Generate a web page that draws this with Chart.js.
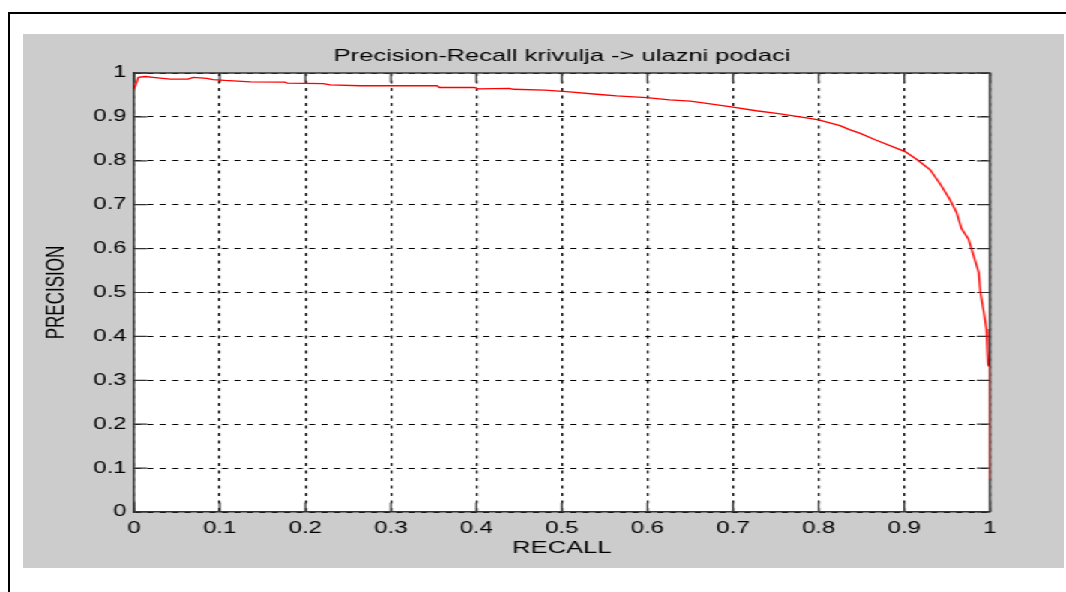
<!DOCTYPE html>
<html>
<head>
<meta charset="utf-8">
<script src="https://cdn.jsdelivr.net/npm/chart.js@4"></script>
<style>
html, body { margin: 0; padding: 0; background: #ffffff; width: 1066px; height: 592px; overflow: hidden; }
#frame { position: absolute; left: 8px; top: 12px; width: 1070px; height: 600px; border-left: 2px solid #000; border-top: 2px solid #000; }
#fig { position: absolute; left: 23px; top: 34px; width: 694px; height: 534px; transform: scaleX(1.5); transform-origin: 0 0; background: #cccccc; }
canvas { display: block; }
</style>
</head>
<body>
<div id="frame"></div>
<div id="fig"><canvas id="c" width="694" height="534" style="width:694px;height:534px"></canvas></div>
<script>
// ---- data ----
const recall = [0, 0.005, 0.013, 0.022, 0.042, 0.063, 0.069, 0.085, 0.092, 0.106, 0.136, 0.176, 0.179, 0.221, 0.229, 0.264, 0.354, 0.357, 0.398, 0.402, 0.439, 0.443, 0.480, 0.509, 0.544, 0.564, 0.599, 0.626, 0.650, 0.665, 0.698, 0.727, 0.751, 0.782, 0.800, 0.825, 0.836, 0.848, 0.866, 0.901, 0.914, 0.930, 0.942, 0.953, 0.961, 0.967, 0.975, 0.981, 0.987, 0.989, 0.993, 0.996, 0.997, 0.998, 1.0, 1.0];
const precision = [0.964, 0.990, 0.992, 0.990, 0.986, 0.986, 0.990, 0.988, 0.985, 0.983, 0.980, 0.979, 0.977, 0.976, 0.973, 0.971, 0.971, 0.967, 0.967, 0.964, 0.965, 0.963, 0.961, 0.957, 0.951, 0.948, 0.944, 0.939, 0.936, 0.932, 0.923, 0.914, 0.908, 0.899, 0.893, 0.880, 0.871, 0.863, 0.848, 0.821, 0.804, 0.780, 0.747, 0.713, 0.683, 0.645, 0.622, 0.584, 0.546, 0.500, 0.455, 0.417, 0.371, 0.335, 0.330, 0.075];
const xTickLabels = ['0', '0.1', '0.2', '0.3', '0.4', '0.5', '0.6', '0.7', '0.8', '0.9', '1'];
const yTickLabels = ['0', '0.1', '0.2', '0.3', '0.4', '0.5', '0.6', '0.7', '0.8', '0.9', '1'];
const chartTitle = 'Precision-Recall krivulja -> ulazni podaci';
const xTitle = 'RECALL';
const yTitle = 'PRECISION';

const FONT = "'Liberation Sans', Arial, Helvetica, sans-serif";
const AXIS_COLOR = '#333333';

const boxPlugin = {
  id: 'matlabBox',
  beforeDraw(chart) {
    const { ctx, chartArea: a } = chart;
    ctx.save();
    ctx.fillStyle = '#ffffff';
    ctx.fillRect(a.left, a.top, a.right - a.left, a.bottom - a.top);
    ctx.restore();
  },
  beforeDatasetsDraw(chart) {
    const { ctx, chartArea: a, scales } = chart;
    const x = scales.x, y = scales.y;
    ctx.save();
    ctx.strokeStyle = AXIS_COLOR;
    ctx.lineWidth = 1.5;
    ctx.beginPath();
    ctx.moveTo(a.left, a.top);
    ctx.lineTo(a.right, a.top);
    ctx.lineTo(a.right, a.bottom);
    ctx.stroke();
    ctx.lineWidth = 1.2;
    ctx.beginPath();
    x.ticks.forEach(t => {
      const px = x.getPixelForValue(t.value);
      ctx.moveTo(px, a.bottom); ctx.lineTo(px, a.bottom - 9.5);
      ctx.moveTo(px, a.top); ctx.lineTo(px, a.top + 9.5);
    });
    y.ticks.forEach(t => {
      const py = y.getPixelForValue(t.value);
      ctx.moveTo(a.left, py); ctx.lineTo(a.left + 8.7, py);
      ctx.moveTo(a.right, py); ctx.lineTo(a.right - 8.7, py);
    });
    ctx.stroke();
    ctx.restore();
  }
};

new Chart(document.getElementById('c'), {
  type: 'scatter',
  data: {
    datasets: [{
      data: recall.map((r, i) => ({ x: r, y: precision[i] })),
      showLine: true,
      borderColor: '#ff0000',
      borderWidth: 1.3,
      pointRadius: 0,
      tension: 0,
      fill: false
    }]
  },
  options: {
    responsive: false,
    animation: false,
    devicePixelRatio: 1,
    layout: { padding: { left: 0, right: 49.33, top: 0, bottom: 0 } },
    plugins: {
      legend: { display: false },
      tooltip: { enabled: false },
      title: {
        display: true,
        text: chartTitle,
        fullSize: false,
        color: '#000',
        font: { family: FONT, size: 17, weight: 'normal', lineHeight: 1.2 },
        padding: { top: 12, bottom: 6.6 }
      }
    },
    scales: {
      x: {
        type: 'linear',
        min: 0, max: 1,
        afterFit(s) { s.height = 56; },
        ticks: {
          stepSize: 0.1,
          autoSkip: false,
          maxRotation: 0,
          padding: 6.5,
          color: '#000',
          font: { family: FONT, size: 16 },
          callback: (v, i) => xTickLabels[i]
        },
        grid: { color: '#000', lineWidth: 1.2, drawTicks: false },
        border: { display: true, color: AXIS_COLOR, width: 1.5, dash: [3, 4.5] },
        title: {
          display: true, text: xTitle, color: '#000',
          font: { family: FONT, size: 17, lineHeight: 1.2 },
          padding: { top: 0, bottom: 9 }
        }
      },
      y: {
        type: 'linear',
        min: 0, max: 1,
        afterFit(s) { s.width = 74; },
        ticks: {
          stepSize: 0.1,
          autoSkip: false,
          padding: 5,
          color: '#000',
          font: { family: FONT, size: 16 },
          callback: (v, i) => yTickLabels[i]
        },
        grid: { color: '#000', lineWidth: 1, drawTicks: false },
        border: { display: true, color: AXIS_COLOR, width: 1.5, dash: [4, 4.3] },
        title: {
          display: true, text: yTitle, color: '#000',
          font: { family: FONT, size: 17, lineHeight: 1.2 },
          padding: { top: 12.3, bottom: 0 }
        }
      }
    }
  },
  plugins: [boxPlugin]
});
</script>
</body>
</html>
